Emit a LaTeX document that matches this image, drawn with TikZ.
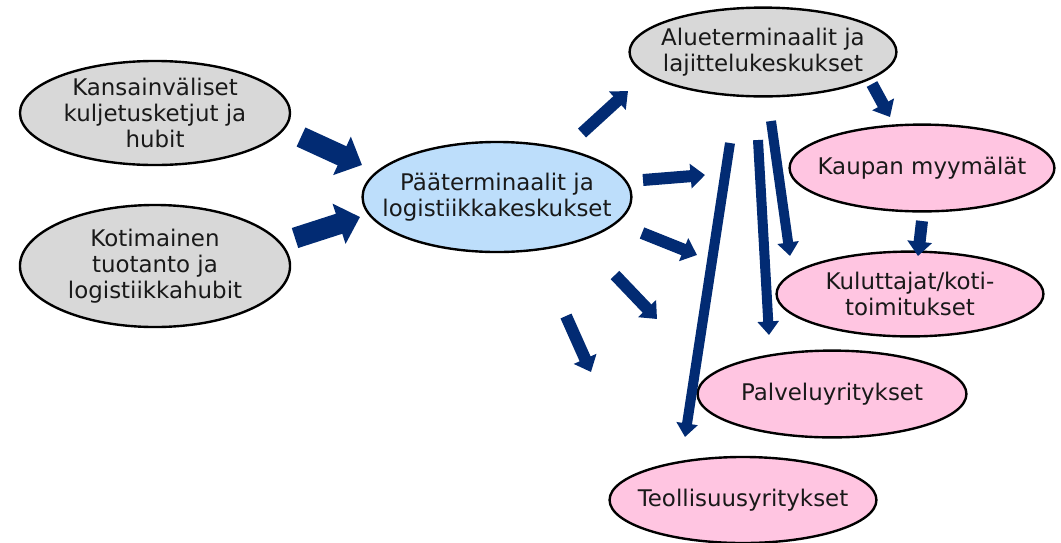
\documentclass[tikz,border=0pt]{standalone}
\usepackage{fontspec}
\setmainfont{DejaVu Sans}
\usetikzlibrary{arrows.meta,shapes.geometric}
\definecolor{flownavy}{RGB}{2,43,115}
\definecolor{hubgrey}{RGB}{216,216,216}
\definecolor{hubblue}{RGB}{189,222,251}
\definecolor{hubpink}{RGB}{255,197,225}

\begin{document}
\begin{tikzpicture}[x=0.025cm,y=-0.025cm,
    hub/.style={ellipse,draw,line width=1.7pt,inner sep=0pt},
    txt/.style={align=center,text=black!90,font=\fontsize{16.3}{18.7}\selectfont},
    grey hub/.style={hub,fill=hubgrey},
    blue hub/.style={hub,fill=hubblue},
    pink hub/.style={hub,fill=hubpink},
    big flow/.style={flownavy,line width=0.525cm,-{Triangle[width=1.025cm,length=0.55cm]}},
    mid flow/.style={flownavy,line width=0.3cm,-{Triangle[width=0.6cm,length=0.36cm]}},
    long flow/.style={flownavy,line width=0.25cm,-{Triangle[width=0.52cm,length=0.34cm]}}]

  \useasboundingbox (0,0) rectangle (1061,542);

  % solmut
  \node[grey hub,minimum width=6.75cm,minimum height=2.6cm,
        label={[txt]center:Kansainväliset\\kuljetusketjut ja\\hubit}] (kv) at (155,113) {};
  \node[grey hub,minimum width=6.75cm,minimum height=3.05cm,
        label={[txt]center:Kotimainen\\tuotanto ja\\logistiikkahubit}] (kt) at (155,266) {};
  \node[blue hub,minimum width=6.72cm,minimum height=2.75cm,
        label={[txt]center:Pääterminaalit ja\\logistiikkakeskukset}] (pt) at (497,197) {};
  \node[grey hub,minimum width=6.67cm,minimum height=2.22cm,
        label={[txt]center:Alueterminaalit ja\\lajittelukeskukset}] (at) at (763,52) {};
  \node[pink hub,minimum width=6.62cm,minimum height=2.17cm,
        label={[txt]center:Kaupan myymälät}] (km) at (922,168) {};
  \node[pink hub,minimum width=6.67cm,minimum height=2.12cm,
        label={[txt]center:Kuluttajat/koti-\\toimitukset}] (ku) at (910,294) {};
  \node[pink hub,minimum width=6.72cm,minimum height=2.17cm,
        label={[txt]center:Palveluyritykset}] (py) at (832,394) {};
  \node[pink hub,minimum width=6.67cm,minimum height=2.15cm,
        label={[txt]center:Teollisuusyritykset}] (ty) at (743,500) {};

  % nuolten päät
  \coordinate (kv out) at (301,137);  \coordinate (pt in1) at (362,165);
  \coordinate (kt out) at (295,238);  \coordinate (pt in2) at (360,217);
  \coordinate (pt o1) at (582,133);   \coordinate (at in) at (628,91);
  \coordinate (pt o2) at (643,180);   \coordinate (e2) at (705,175);
  \coordinate (pt o3) at (642,233);   \coordinate (e3) at (697,255);
  \coordinate (pt o4) at (615,275);   \coordinate (e4) at (657,319);
  \coordinate (pt o5) at (566,316);   \coordinate (e5) at (591,372);
  \coordinate (at out) at (872,84);   \coordinate (km in) at (890,117);
  \coordinate (km out) at (922,221);  \coordinate (ku in) at (918,256);
  \coordinate (l1) at (730,143);      \coordinate (ty in) at (685,437);
  \coordinate (l2) at (758,140);      \coordinate (py in) at (769,335);
  \coordinate (l3) at (771,121);      \coordinate (ku in2) at (790,256);

  \draw[big flow] (kv out) -- (pt in1);
  \draw[big flow] (kt out) -- (pt in2);
  \draw[mid flow] (pt o1) -- (at in);
  \draw[mid flow] (pt o2) -- (e2);
  \draw[mid flow] (pt o3) -- (e3);
  \draw[mid flow] (pt o4) -- (e4);
  \draw[mid flow] (pt o5) -- (e5);
  \draw[mid flow] (at out) -- (km in);
  \draw[mid flow] (km out) -- (ku in);
  \draw[long flow] (l1) -- (ty in);
  \draw[long flow] (l2) -- (py in);
  \draw[long flow] (l3) -- (ku in2);
\end{tikzpicture}
\end{document}
